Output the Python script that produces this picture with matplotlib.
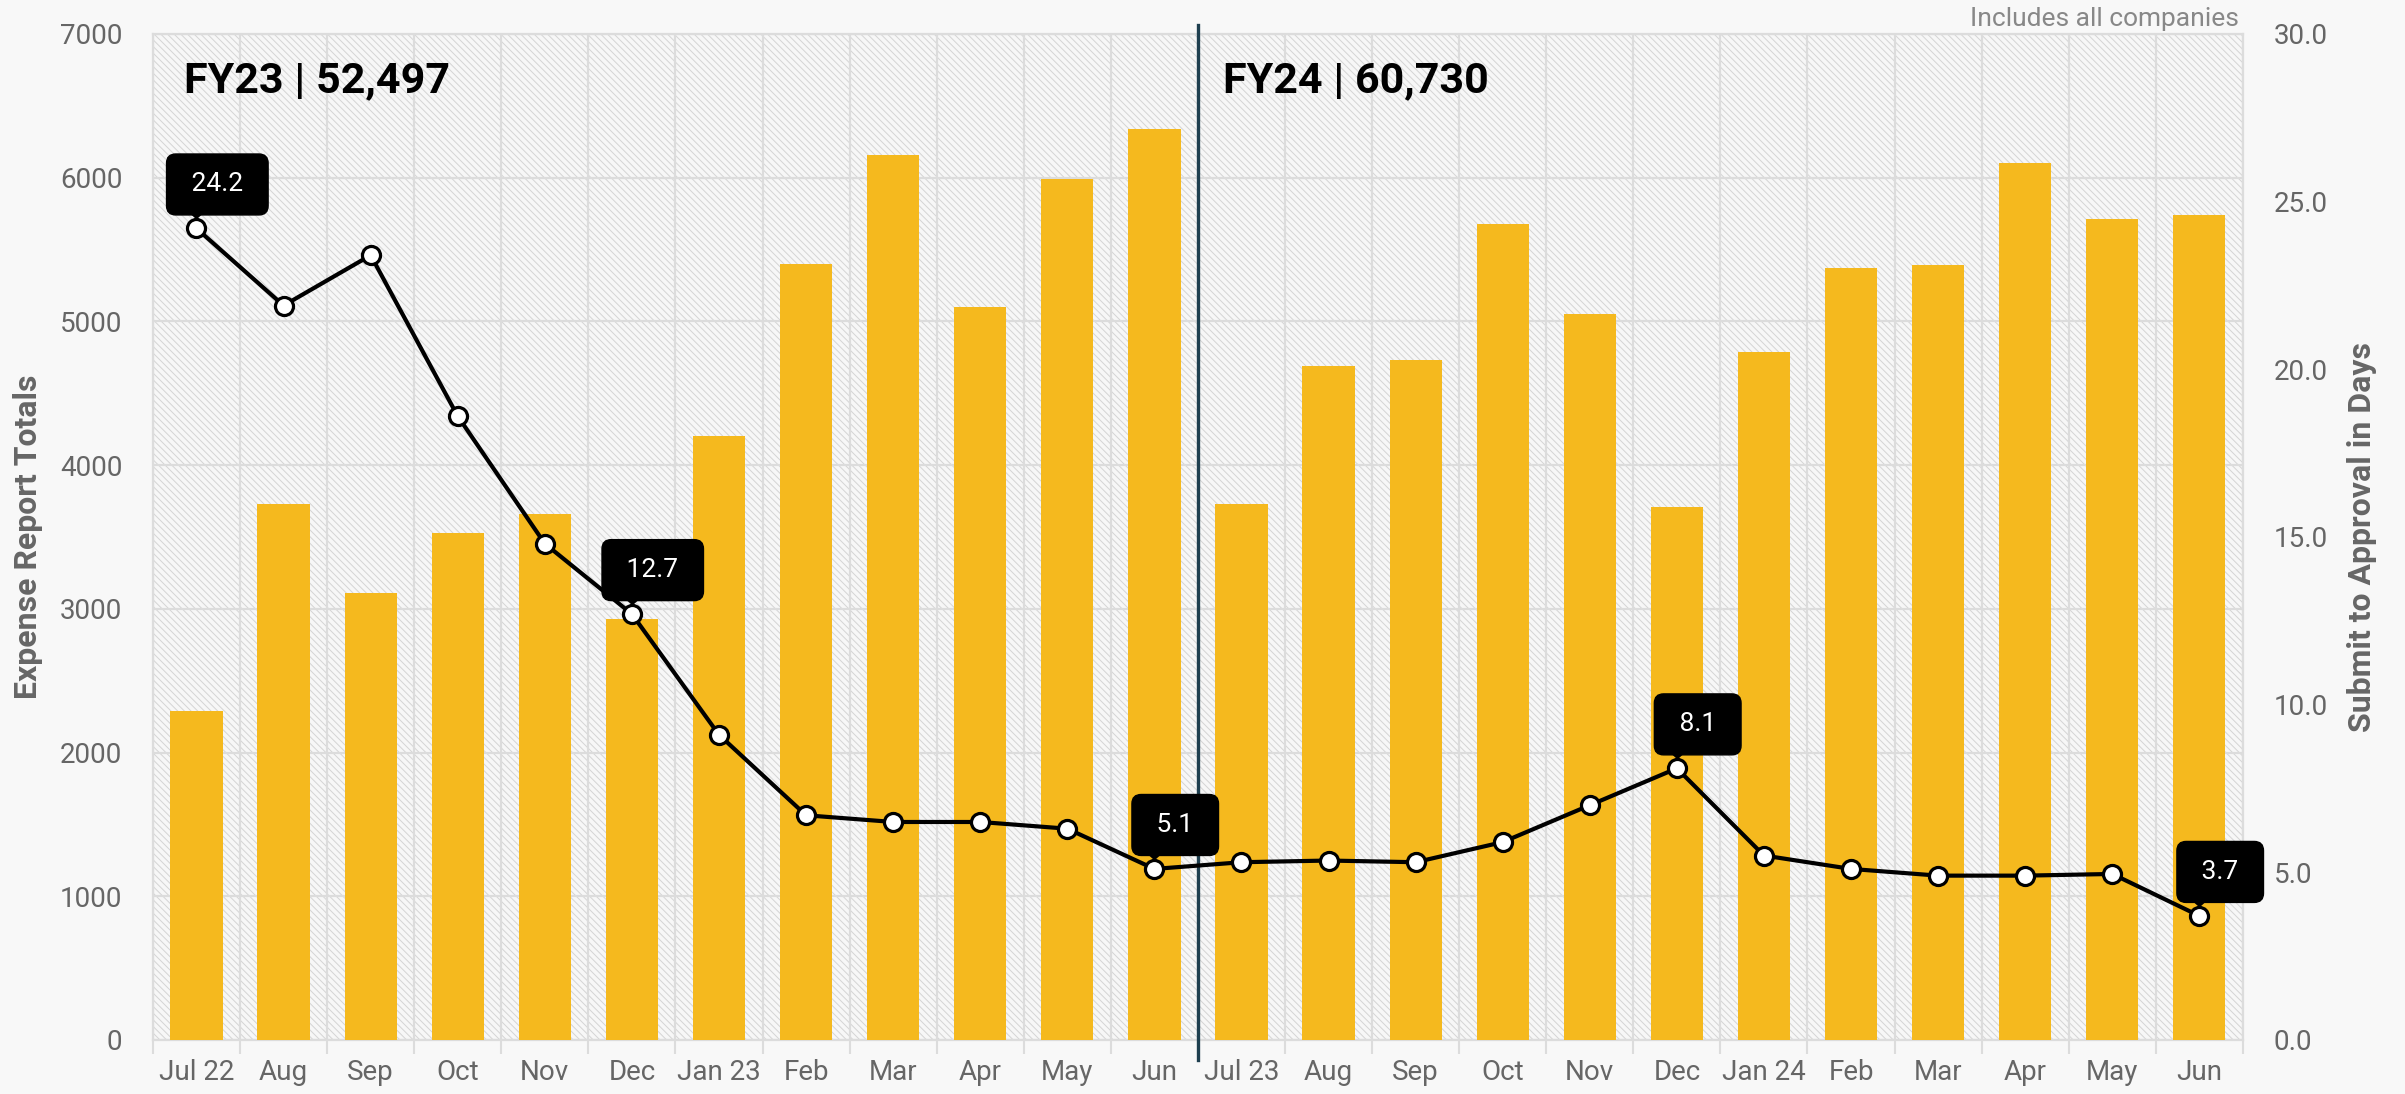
import matplotlib
matplotlib.use("Agg")
import matplotlib.pyplot as plt
import matplotlib.transforms as mtransforms
from matplotlib.ticker import FuncFormatter, MultipleLocator
import numpy as np

plt.rcParams['font.family'] = ['Roboto', 'DejaVu Sans']
plt.rcParams['hatch.color'] = '#d4d4d4'
plt.rcParams['hatch.linewidth'] = 0.7

months = ["Jul 22", "Aug", "Sep", "Oct", "Nov", "Dec", "Jan 23", "Feb", "Mar", "Apr", "May", "Jun",
          "Jul 23", "Aug", "Sep", "Oct", "Nov", "Dec", "Jan 24", "Feb", "Mar", "Apr", "May", "Jun"]
expense_totals = [2290, 3730, 3110, 3530, 3660, 2930, 4200, 5400, 6160, 5100, 5990, 6340,
                  3730, 4690, 4730, 5680, 5050, 3710, 4790, 5370, 5390, 6100, 5710, 5740]
approval_days = [24.2, 21.9, 23.4, 18.6, 14.8, 12.7, 9.1, 6.7, 6.5, 6.5, 6.3, 5.1,
                 5.3, 5.35, 5.3, 5.9, 7.0, 8.1, 5.5, 5.1, 4.9, 4.9, 4.95, 3.7]
labeled_points = [0, 5, 11, 17, 23]
fy_labels = ["FY23 | 52,497", "FY24 | 60,730"]

BAR = '#F5B91E'
GRID = '#dcdcdc'
TXT = '#666666'

fig = plt.figure(figsize=(24.05, 10.94), dpi=100, facecolor='#f8f8f8')
ax = fig.add_axes([0.0636, 0.0494, 0.8690, 0.9196])
ax.set_facecolor('#f7f7f7')
ax.patch.set_hatch('\\\\\\\\\\')
ax.patch.set_edgecolor('#d4d4d4')

x = np.arange(len(months))
ax.bar(x, expense_totals, width=0.6, color=BAR, zorder=3)
ax.set_xlim(-0.5, len(months) - 0.5)
ax.set_ylim(0, 7000)
ax.yaxis.set_major_locator(MultipleLocator(1000))
ax.set_xticks(x)
ax.set_xticklabels(months)
ax.set_xticks(np.arange(-0.5, len(months)), minor=True)
ax.tick_params(axis='x', which='major', length=0, pad=14, labelsize=20, labelcolor=TXT)
ax.tick_params(axis='x', which='minor', length=10, width=1.5, color=GRID)
ax.tick_params(axis='y', length=0, pad=22, labelsize=20, labelcolor=TXT)
ax.grid(axis='y', which='major', color=GRID, linewidth=1.6, zorder=1)
ax.grid(axis='x', which='minor', color=GRID, linewidth=1.6, zorder=1)
ax.set_axisbelow(True)
for s in ax.spines.values():
    s.set_color(GRID)
    s.set_linewidth(1.6)
ax.set_ylabel("Expense Report Totals", fontsize=23, fontweight='bold', color=TXT, labelpad=12)

ax2 = ax.twinx()
ax2.set_ylim(0, 30)
ax2.yaxis.set_major_locator(MultipleLocator(5))
ax2.yaxis.set_major_formatter(FuncFormatter(lambda v, p: f"{v:.1f}"))
ax2.tick_params(axis='y', length=0, pad=22, labelsize=20, labelcolor=TXT)
for s in ax2.spines.values():
    s.set_visible(False)
ax2.set_ylabel("Submit to Approval in Days", fontsize=23, fontweight='bold', color=TXT, labelpad=14)

ax2.plot(x, approval_days, color='black', linewidth=3.0, marker='o', markersize=13,
         markerfacecolor='white', markeredgecolor='black', markeredgewidth=2.3, zorder=5)

pointer = [(-1.0, 0.45), (1.0, 0.45), (0.0, -0.45)]
for i in labeled_points:
    tri = mtransforms.offset_copy(ax2.transData, fig=fig, x=0, y=11, units='points')
    ax2.plot([x[i]], [approval_days[i]], marker=pointer, markersize=19, color='black',
             markeredgewidth=0, transform=tri, zorder=6, clip_on=False)
    ax2.annotate(f" {approval_days[i]:.1f} ", xy=(x[i], approval_days[i]), xytext=(15, 23),
                 textcoords='offset points', ha='center', va='bottom', fontsize=19, color='white',
                 bbox=dict(boxstyle='round,pad=0.7,rounding_size=0.35', fc='black', ec='black'),
                 zorder=7)

ax.axvline(11.5, ymin=-0.02, ymax=1.009, color='#1e3f4f', linewidth=2.4, zorder=4, clip_on=False)

ax.text(-0.14, 0.953, fy_labels[0], transform=ax.get_xaxis_transform(), fontsize=31,
        fontweight='bold', color='black', va='center', ha='left', zorder=8)
ax.text(11.79, 0.953, fy_labels[1], transform=ax.get_xaxis_transform(), fontsize=31,
        fontweight='bold', color='black', va='center', ha='left', zorder=8)
ax.text(0.998, 1.003, "Includes all companies", transform=ax.transAxes, fontsize=19,
        color='#888888', ha='right', va='bottom')

fig.savefig("out.png", dpi=100, facecolor=fig.get_facecolor())
